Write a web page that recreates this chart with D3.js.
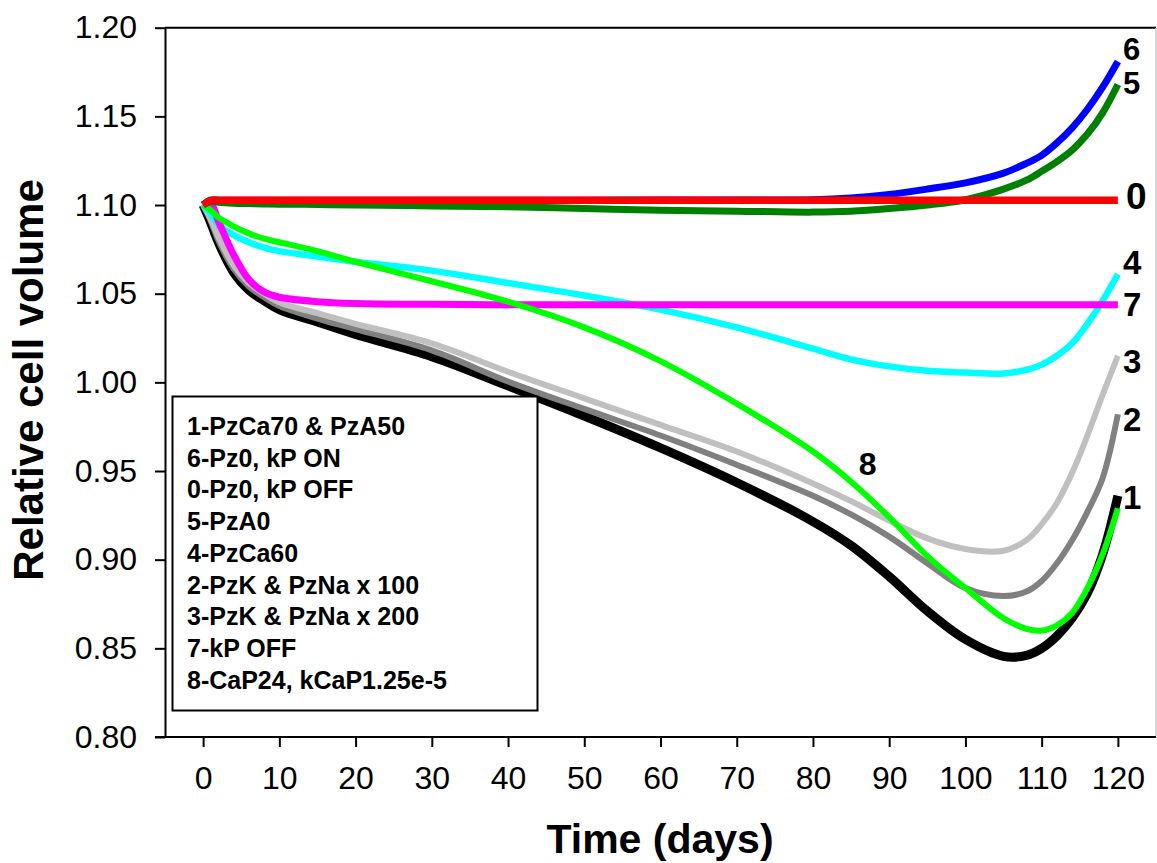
<!DOCTYPE html>
<html>
<head>
<meta charset="utf-8">
<script src="https://cdn.jsdelivr.net/npm/d3@7"></script>
<style>
  html, body { margin: 0; padding: 0; background: #fff; }
  svg { display: block; }
  text { font-family: "Liberation Sans", Arial, Helvetica, sans-serif; }
</style>
</head>
<body>
<svg id="chart" width="1157" height="863"></svg>
<script>
// ---------------- data ----------------
const days = [0,1,2,4,6,8,10,15,20,30,40,50,60,70,80,85,90,95,100,105,108,110,112,114,116,118,120];

const s1 = [1.100,1.090,1.079,1.062,1.052,1.046,1.041,1.034,1.027,1.0145,0.998,0.981,0.963,0.9435,0.9215,0.908,0.8905,0.871,0.855,0.8455,0.846,0.850,0.857,0.867,0.881,0.903,0.936];
const s2 = [1.100,1.091,1.080,1.064,1.054,1.048,1.043,1.036,1.030,1.018,1.0005,0.985,0.970,0.9535,0.936,0.9255,0.913,0.898,0.884,0.8795,0.882,0.888,0.898,0.911,0.927,0.946,0.982];
const s3 = [1.100,1.092,1.082,1.066,1.056,1.050,1.045,1.039,1.033,1.022,1.006,0.991,0.976,0.961,0.943,0.933,0.922,0.912,0.906,0.905,0.911,0.920,0.932,0.949,0.970,0.993,1.015];
const s7 = [1.100,1.101,1.091,1.072,1.058,1.051,1.048,1.0455,1.0445,1.044,1.0438,1.0437,1.0437,1.0437,1.0437,1.0437,1.0437,1.0437,1.0437,1.0437,1.0437,1.0437,1.0437,1.0437,1.0437,1.0437,1.0437];
const s4 = [1.100,1.095,1.089,1.083,1.079,1.076,1.074,1.071,1.068,1.063,1.056,1.049,1.041,1.031,1.019,1.013,1.009,1.0065,1.0055,1.005,1.007,1.010,1.015,1.022,1.033,1.046,1.061];
const s8 = [1.100,1.097,1.093,1.088,1.084,1.081,1.079,1.074,1.068,1.057,1.0455,1.031,1.012,0.988,0.961,0.944,0.924,0.902,0.884,0.867,0.861,0.860,0.863,0.870,0.884,0.903,0.929];
const s0 = [1.100,1.1027,1.1027,1.1027,1.1027,1.1027,1.1027,1.1027,1.1027,1.1027,1.1027,1.1027,1.1027,1.1027,1.1027,1.1027,1.1027,1.1027,1.1027,1.1027,1.1027,1.1027,1.1027,1.1027,1.1027,1.1027,1.1027];
const s6 = [1.100,1.1027,1.1027,1.1027,1.1027,1.1027,1.1027,1.1027,1.1027,1.1027,1.1027,1.1027,1.1028,1.1028,1.103,1.104,1.106,1.109,1.1125,1.118,1.1235,1.128,1.135,1.1435,1.154,1.1665,1.181];
const s5 = [1.100,1.102,1.1015,1.101,1.1008,1.1006,1.1005,1.1003,1.100,1.0995,1.099,1.098,1.097,1.0965,1.096,1.0965,1.098,1.100,1.103,1.109,1.114,1.119,1.1245,1.131,1.140,1.152,1.168];

const yTicks = [0.80,0.85,0.90,0.95,1.00,1.05,1.10,1.15,1.20];
const xTicks = [0,10,20,30,40,50,60,70,80,90,100,110,120];

const legendLines = ["1-PzCa70 & PzA50","6-Pz0, kP ON","0-Pz0, kP OFF","5-PzA0","4-PzCa60",
  "2-PzK & PzNa x 100","3-PzK & PzNa x 200","7-kP OFF","8-CaP24, kCaP1.25e-5"];

const label8 = {t: 86, v: 0.948};

// ---------------- layout / styles ----------------
const series = [
  {id:"1", values:s1, color:"#000000", w:9,   dy:13, fs:33},
  {id:"2", values:s2, color:"#808080", w:6,   dy:17, fs:33},
  {id:"3", values:s3, color:"#c0c0c0", w:6,   dy:17, fs:33},
  {id:"4", values:s4, color:"#00ffff", w:6.5, dy:0,  fs:33},
  {id:"7", values:s7, color:"#ff00ff", w:7,   dy:11, fs:33},
  {id:"8", values:s8, color:"#00ff00", w:6,   dy:null},
  {id:"5", values:s5, color:"#008000", w:7,   dy:10, fs:31},
  {id:"6", values:s6, color:"#0000ff", w:7,   dy:-1, fs:31},
  {id:"0", values:s0, color:"#ff0000", w:7.5, dy:9,  fs:37}
];

const svg = d3.select("#chart");
const pLeft = 165, pRight = 1156, pTop = 27.7, pBottom = 737;

const x = d3.scaleLinear().domain([-5, 125]).range([pLeft, pRight]);
const y = d3.scaleLinear().domain([0.80, 1.20]).range([pBottom, pTop]);

// frame (top, right)
svg.append("line").attr("x1", pLeft).attr("x2", pRight).attr("y1", pTop).attr("y2", pTop)
  .attr("stroke", "#000").attr("stroke-width", 2);
svg.append("line").attr("x1", pRight).attr("x2", pRight).attr("y1", pTop).attr("y2", pBottom)
  .attr("stroke", "#c8c8c8").attr("stroke-width", 1.5);

// y axis
const yAxis = d3.axisLeft(y).tickValues(yTicks).tickFormat(d3.format(".2f")).tickSize(10).tickSizeOuter(0).tickPadding(18);
const gy = svg.append("g").attr("transform", `translate(${pLeft},0)`).call(yAxis);
gy.select(".domain").attr("stroke", "#000").attr("stroke-width", 2);
gy.selectAll(".tick line").attr("stroke", "#000").attr("stroke-width", 2);
gy.selectAll(".tick text").attr("font-size", 32).attr("fill", "#000")
  .attr("font-family", '"Liberation Sans", Arial, sans-serif');

// x axis
const xAxis = d3.axisBottom(x).tickValues(xTicks).tickFormat(d3.format("d")).tickSize(10).tickSizeOuter(0).tickPadding(19);
const gx = svg.append("g").attr("transform", `translate(0,${pBottom})`).call(xAxis);
gx.select(".domain").remove();
gx.append("line").attr("x1", pLeft - 10).attr("x2", pRight).attr("y1", 0).attr("y2", 0)
  .attr("stroke", "#000").attr("stroke-width", 2);
gx.selectAll(".tick line").attr("stroke", "#000").attr("stroke-width", 2);
gx.selectAll(".tick text").attr("font-size", 32).attr("fill", "#000")
  .attr("font-family", '"Liberation Sans", Arial, sans-serif');

// axis titles
svg.append("text").attr("x", 660).attr("y", 853).attr("text-anchor", "middle")
  .attr("font-size", 41).attr("font-weight", "bold").text("Time (days)");
svg.append("text").attr("transform", "translate(43,380) rotate(-90)").attr("text-anchor", "middle")
  .attr("font-size", 42).attr("font-weight", "bold").text("Relative cell volume");

// lines
const line = d3.line().x((d, i) => x(days[i])).y(d => y(d)).curve(d3.curveCatmullRom.alpha(0.5));
const gl = svg.append("g");
series.forEach(s => {
  gl.append("path").attr("d", line(s.values)).attr("fill", "none")
    .attr("stroke", s.color).attr("stroke-width", s.w)
    .attr("stroke-linejoin", "round").attr("stroke-linecap", "butt");
});

// end labels
series.filter(s => s.dy !== null).forEach(s => {
  const last = s.values[s.values.length - 1];
  svg.append("text")
    .attr("x", x(days[days.length - 1]) + (s.id === "0" ? 8 : 5))
    .attr("y", y(last) + s.dy)
    .attr("font-size", s.fs).attr("font-weight", "bold").text(s.id);
});
svg.append("text").attr("x", x(label8.t)).attr("y", y(label8.v))
  .attr("font-size", 32).attr("font-weight", "bold").text("8");

// legend
const lg = svg.append("g");
lg.append("rect").attr("x", 172.5).attr("y", 396.5).attr("width", 365).attr("height", 314)
  .attr("fill", "#fff").attr("stroke", "#000").attr("stroke-width", 2);
legendLines.forEach((t, i) => {
  lg.append("text").attr("x", 187).attr("y", 435 + i * 31.7)
    .attr("font-size", 25).attr("font-weight", "bold").text(t);
});
</script>
</body>
</html>
